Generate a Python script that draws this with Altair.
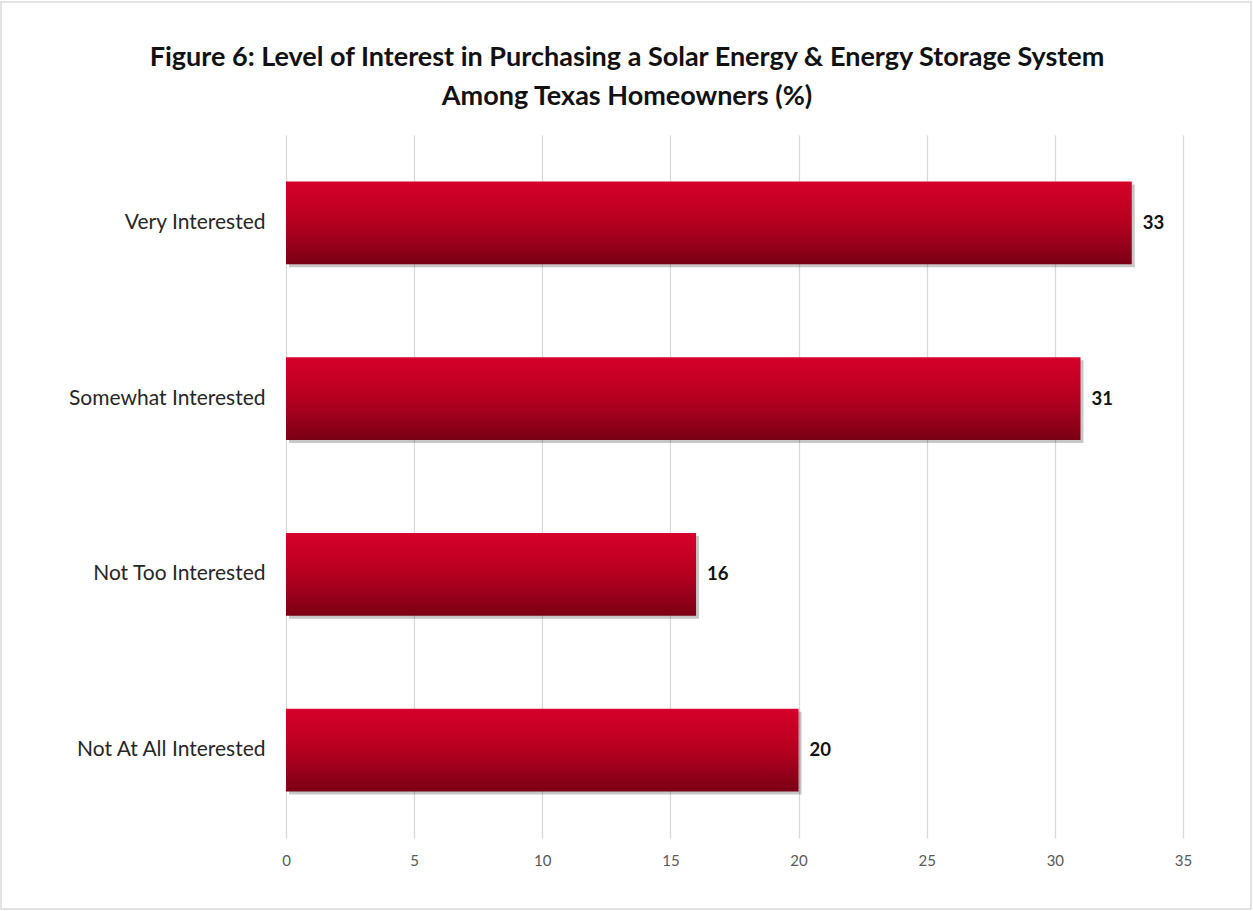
import altair as alt
import pandas as pd

categories = ["Very Interested", "Somewhat Interested", "Not Too Interested", "Not At All Interested"]
values = [33, 31, 16, 20]
x_ticks = [0, 5, 10, 15, 20, 25, 30, 35]
title_lines = ["Figure 6: Level of Interest in Purchasing a Solar Energy & Energy Storage System",
               "Among Texas Homeowners (%)"]

df = pd.DataFrame({"cat": categories, "val": values})
one_row = pd.DataFrame({"k": [0]})

FONT = "Lato"

x_enc = alt.X("val:Q", scale=alt.Scale(domain=[0, 35], nice=False),
              axis=alt.Axis(values=x_ticks, title=None, grid=True, gridColor="#d9d9d9",
                            gridWidth=1.3, domain=False, ticks=False, labelColor="#595959",
                            labelFontSize=15, labelFont=FONT, labelPadding=15,
                            labelFlush=False))
y_enc = alt.Y("cat:N", sort=categories,
              scale=alt.Scale(paddingInner=0.53, paddingOuter=0.265),
              axis=alt.Axis(title=None, domain=False, ticks=False, grid=False,
                            labelColor="#262626", labelFontSize=21, labelFont=FONT,
                            labelPadding=21, labelLimit=400))

base = alt.Chart(df)

border = alt.Chart(one_row).mark_rect(fill="transparent", stroke="#d9d9d9", strokeWidth=1.5).encode(
    x=alt.value(-285), x2=alt.value(965), y=alt.value(-133), y2=alt.value(774))

title_marks = [
    alt.Chart(one_row).mark_text(
        align="center", baseline="middle", font=FONT, fontSize=27, fontWeight="bold",
        color="#111111"
    ).encode(x=alt.value(341), y=alt.value(yv), text=alt.value(line))
    for line, yv in zip(title_lines, [-77, -38])
]

shadow = base.mark_bar(color="#000000", opacity=0.22, xOffset=3, yOffset=3).encode(
    x=x_enc, y=y_enc)

bars = base.mark_bar(
    color=alt.Gradient(
        gradient="linear",
        stops=[alt.GradientStop(color="#d6002a", offset=0),
               alt.GradientStop(color="#b50020", offset=0.5),
               alt.GradientStop(color="#7a0014", offset=1)],
        x1=0, x2=0, y1=0, y2=1)
).encode(x=x_enc, y=y_enc)

labels = base.mark_text(align="left", baseline="middle", dx=11, fontSize=18.5,
                        fontWeight="bold", font=FONT, color="#111111").encode(
    x="val:Q", y=alt.Y("cat:N", sort=categories), text="val:Q")

chart = alt.layer(border, shadow, bars, labels, *title_marks).properties(
    width=897, height=703,
    background="white",
    autosize=alt.AutoSizeParams(type="none"),
    padding={"left": 286, "top": 135, "right": 70, "bottom": 73},
).configure_view(stroke="transparent", strokeWidth=0)

chart.save("out.html", embed_options={"renderer": "svg", "actions": False})
